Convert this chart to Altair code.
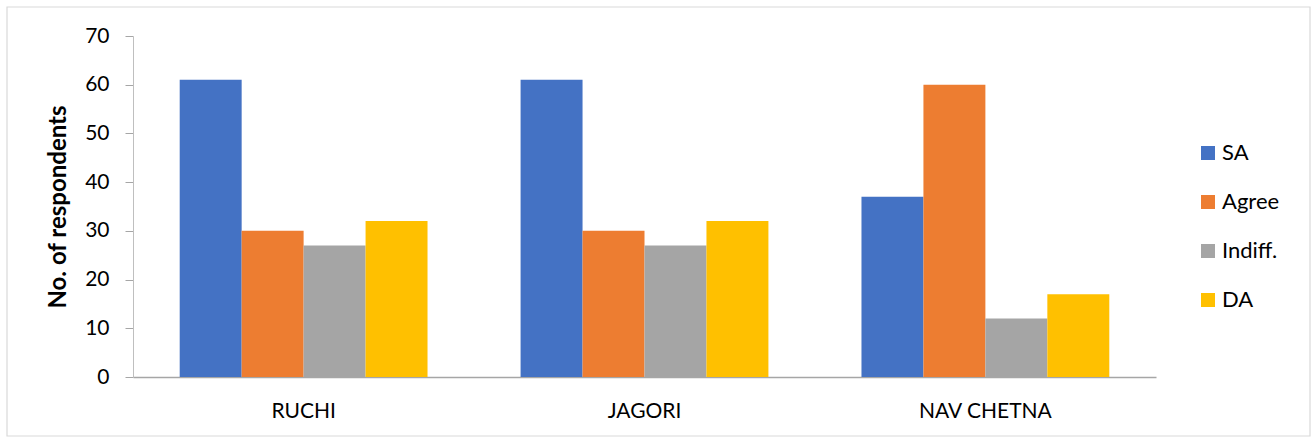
import altair as alt
import pandas as pd

orgs = ["RUCHI", "JAGORI", "NAV CHETNA"]
series = ["SA", "Agree", "Indiff.", "DA"]
colors = ["#4472C4", "#ED7D31", "#A5A5A5", "#FFC000"]
values = {
    "SA": [61, 61, 37],
    "Agree": [30, 30, 60],
    "Indiff.": [27, 27, 12],
    "DA": [32, 32, 17],
}

rows = []
for s in series:
    for o, v in zip(orgs, values[s]):
        rows.append({"org": o, "series": s, "value": v})
df = pd.DataFrame(rows)

FONT = "Lato"

bars = alt.Chart(df).mark_bar().encode(
    x=alt.X("org:N", sort=orgs, title=None,
            scale=alt.Scale(paddingInner=0.273, paddingOuter=0.137),
            axis=alt.Axis(labelAngle=0, ticks=False, domain=True, domainColor="#A6A6A6",
                          domainWidth=1.5, labelFontSize=21, labelFont=FONT,
                          labelColor="#000000", labelPadding=23)),
    xOffset=alt.XOffset("series:N", sort=series,
                        scale=alt.Scale(paddingInner=0, paddingOuter=0)),
    y=alt.Y("value:Q", title="No. of respondents",
            scale=alt.Scale(domain=[0, 70]),
            axis=alt.Axis(values=[0, 10, 20, 30, 40, 50, 60, 70], grid=False,
                          tickSize=8, tickColor="#A6A6A6", domainColor="#BFBFBF",
                          labelFontSize=21, labelFont=FONT, labelColor="#000000",
                          labelPadding=16, titleFontSize=24, titleFont=FONT,
                          titleFontWeight="bold", titleColor="#000000", titlePadding=14)),
    color=alt.Color("series:N", sort=series,
                    scale=alt.Scale(domain=series, range=colors),
                    legend=alt.Legend(title=None, orient="none", legendX=1064, legendY=106,
                                      symbolType="square", symbolSize=196, symbolStrokeWidth=0,
                                      labelFontSize=22, labelFont=FONT, labelColor="#000000",
                                      rowPadding=27, labelOffset=3)),
)

border = alt.Chart(pd.DataFrame({"a": [0]})).mark_rect(
    fill=None, stroke="#D9D9D9", strokeWidth=1.2
).encode(
    x=alt.value(-126), x2=alt.value(1177), y=alt.value(-29), y2=alt.value(400)
)

chart = alt.layer(border, bars).properties(
    width=1023, height=341,
    autosize=alt.AutoSizeParams(type="none"),
    padding={"left": 133, "top": 36, "right": 158, "bottom": 64},
).configure(background="white").configure_view(stroke=None)

chart.save("out.html", embed_options={"renderer": "svg", "actions": False})
